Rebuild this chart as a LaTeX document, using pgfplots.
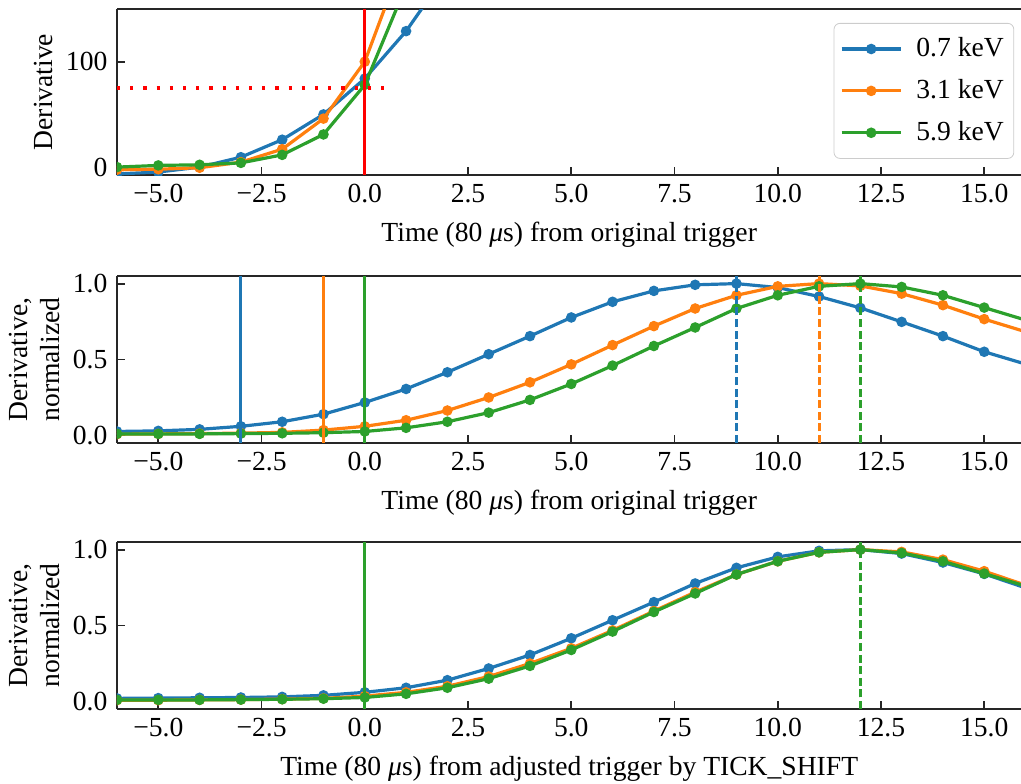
\documentclass[border=0pt]{standalone}
\usepackage{fontspec}
\setmainfont{Liberation Serif}
\usepackage{pgfplots}
\pgfplotsset{compat=1.18}
\definecolor{tabblue}{HTML}{1F77B4}
\definecolor{taborange}{HTML}{FF7F0E}
\definecolor{tabgreen}{HTML}{2CA02C}
\pgfplotsset{
  myaxis/.style={
    scale only axis, width=452.2pt, height=83.5pt,
    xmin=-6, xmax=15.9,
    axis x line*=box, axis y line*=left,
    xtick={-5,-2.5,0,2.5,5,7.5,10,12.5,15},
    xticklabels={−5.0,−2.5,0.0,2.5,5.0,7.5,10.0,12.5,15.0},
    tick align=inside, xtick pos=bottom, ytick pos=left,
    major tick length=4pt,
    tick style={line width=0.9pt, black!85},
    axis line style={line width=0.9pt, black!85},
    clip marker paths=true,
    ylabel style={align=center},
    ylabel shift=-3pt,
    legend image code/.code={\draw[mark repeat=2,mark phase=2,#1] plot coordinates {(0cm,0cm)(0.52cm,0cm)(1.04cm,0cm)};},
  },
  ser/.style={line width=1.6pt, mark=*, mark size=1.8pt, mark options={solid}},
  vl/.style={line width=1.5pt, no marks, forget plot},
  vd/.style={line width=1.5pt, no marks, forget plot, dash pattern=on 4pt off 1.8pt},
}
\begin{document}
\fontsize{13.8}{16}\selectfont
\begin{tikzpicture}
\useasboundingbox (-58.5pt,-387pt) rectangle (452pt,4.5pt);
% ---------------- top panel
\begin{axis}[myaxis, height=83pt, anchor=north west, at={(0,0)},
  ymin=-7.5, ymax=150, ytick={0,100}, yticklabels={0,100},
  ylabel={Derivative},
  xlabel={Time (80 \textit{μ}s) from original trigger},
  legend style={at={(0.992,0.916)}, anchor=north east, draw=black!20,
    rounded corners=3pt, fill=white, row sep=5.3pt, inner xsep=3pt, inner ysep=5pt,
    /tikz/every odd column/.append style={column sep=5pt}},
  legend cell align=left]
\addplot[ser, tabblue] coordinates {(-6,-6.5)(-5,-4.7)(-4,0)(-3,9.4)(-2,26)(-1,50)(0,84)(1,129)(2,185)};
\addlegendentry{0.7 keV}
\addplot[ser, taborange] coordinates {(-6,-2.5)(-5,-2)(-4,-0.6)(-3,4.7)(-2,17)(-1,46)(0,100)(1,205)};
\addlegendentry{3.1 keV}
\addplot[ser, tabgreen] coordinates {(-6,0)(-5,1.6)(-4,2.2)(-3,4)(-2,11.6)(-1,31)(0,78)(1,172)};
\addlegendentry{5.9 keV}
\addplot[vl, red] coordinates {(0,-7.5)(0,150)};
\addplot[no marks, forget plot, red, line width=1.6pt, dash pattern=on 1.6pt off 5pt] coordinates {(-6,75)(0.5,75)};
\end{axis}
% ---------------- middle panel
\begin{axis}[myaxis, anchor=north west, at={(0,-133.5pt)},
  ymin=-0.05, ymax=1.05, ytick={0,0.5,1}, yticklabels={0.0,0.5,1.0},
  ylabel={Derivative,\\normalized},
  xlabel={Time (80 \textit{μ}s) from original trigger}]
\addplot[ser, tabblue] coordinates {(-6,0.026)(-5,0.03)(-4,0.04)(-3,0.06)(-2,0.09)(-1,0.14)(0,0.217)(1,0.306)(2,0.416)(3,0.535)(4,0.654)(5,0.777)(6,0.88)(7,0.952)(8,0.992)(9,1.0)(10,0.974)(11,0.915)(12,0.84)(13,0.748)(14,0.654)(15,0.551)(16,0.47)};
\addplot[ser, taborange] coordinates {(-6,0.008)(-5,0.01)(-4,0.012)(-3,0.015)(-2,0.02)(-1,0.035)(0,0.06)(1,0.10)(2,0.164)(3,0.25)(4,0.35)(5,0.468)(6,0.595)(7,0.72)(8,0.836)(9,0.923)(10,0.982)(11,1.0)(12,0.985)(13,0.934)(14,0.858)(15,0.766)(16,0.683)};
\addplot[ser, tabgreen] coordinates {(-6,0.01)(-5,0.01)(-4,0.01)(-3,0.012)(-2,0.014)(-1,0.018)(0,0.026)(1,0.05)(2,0.09)(3,0.15)(4,0.234)(5,0.339)(6,0.46)(7,0.589)(8,0.711)(9,0.836)(10,0.923)(11,0.982)(12,1.0)(13,0.978)(14,0.923)(15,0.842)(16,0.76)};
\addplot[vl, tabblue] coordinates {(-3,-0.05)(-3,1.05)};
\addplot[vd, tabblue] coordinates {(9,-0.05)(9,1.05)};
\addplot[vl, taborange] coordinates {(-1,-0.05)(-1,1.05)};
\addplot[vd, taborange] coordinates {(11,-0.05)(11,1.05)};
\addplot[vl, tabgreen] coordinates {(0,-0.05)(0,1.05)};
\addplot[vd, tabgreen] coordinates {(12,-0.05)(12,1.05)};
\end{axis}
% ---------------- bottom panel
\begin{axis}[myaxis, anchor=north west, at={(0,-266.5pt)},
  ymin=-0.05, ymax=1.05, ytick={0,0.5,1}, yticklabels={0.0,0.5,1.0},
  ylabel={Derivative,\\normalized},
  xlabel={Time (80 \textit{μ}s) from adjusted trigger by TICK\_SHIFT}]
\addplot[ser, tabblue] coordinates {(-6,0.02)(-5,0.022)(-4,0.024)(-3,0.026)(-2,0.03)(-1,0.04)(0,0.06)(1,0.09)(2,0.14)(3,0.217)(4,0.306)(5,0.416)(6,0.535)(7,0.654)(8,0.777)(9,0.88)(10,0.952)(11,0.992)(12,1.0)(13,0.974)(14,0.915)(15,0.84)(16,0.748)};
\addplot[ser, taborange] coordinates {(-6,0.008)(-5,0.008)(-4,0.01)(-3,0.012)(-2,0.015)(-1,0.02)(0,0.035)(1,0.06)(2,0.10)(3,0.164)(4,0.25)(5,0.35)(6,0.468)(7,0.595)(8,0.72)(9,0.836)(10,0.923)(11,0.982)(12,1.0)(13,0.985)(14,0.934)(15,0.858)(16,0.766)};
\addplot[ser, tabgreen] coordinates {(-6,0.01)(-5,0.01)(-4,0.01)(-3,0.012)(-2,0.014)(-1,0.018)(0,0.026)(1,0.05)(2,0.09)(3,0.15)(4,0.234)(5,0.339)(6,0.46)(7,0.589)(8,0.711)(9,0.836)(10,0.923)(11,0.982)(12,1.0)(13,0.978)(14,0.923)(15,0.842)(16,0.76)};
\addplot[vl, tabblue] coordinates {(0,-0.05)(0,1.05)};
\addplot[vd, tabblue] coordinates {(12,-0.05)(12,1.05)};
\addplot[vl, taborange] coordinates {(0,-0.05)(0,1.05)};
\addplot[vd, taborange] coordinates {(12,-0.05)(12,1.05)};
\addplot[vl, tabgreen] coordinates {(0,-0.05)(0,1.05)};
\addplot[vd, tabgreen] coordinates {(12,-0.05)(12,1.05)};
\end{axis}
\end{tikzpicture}
\end{document}
